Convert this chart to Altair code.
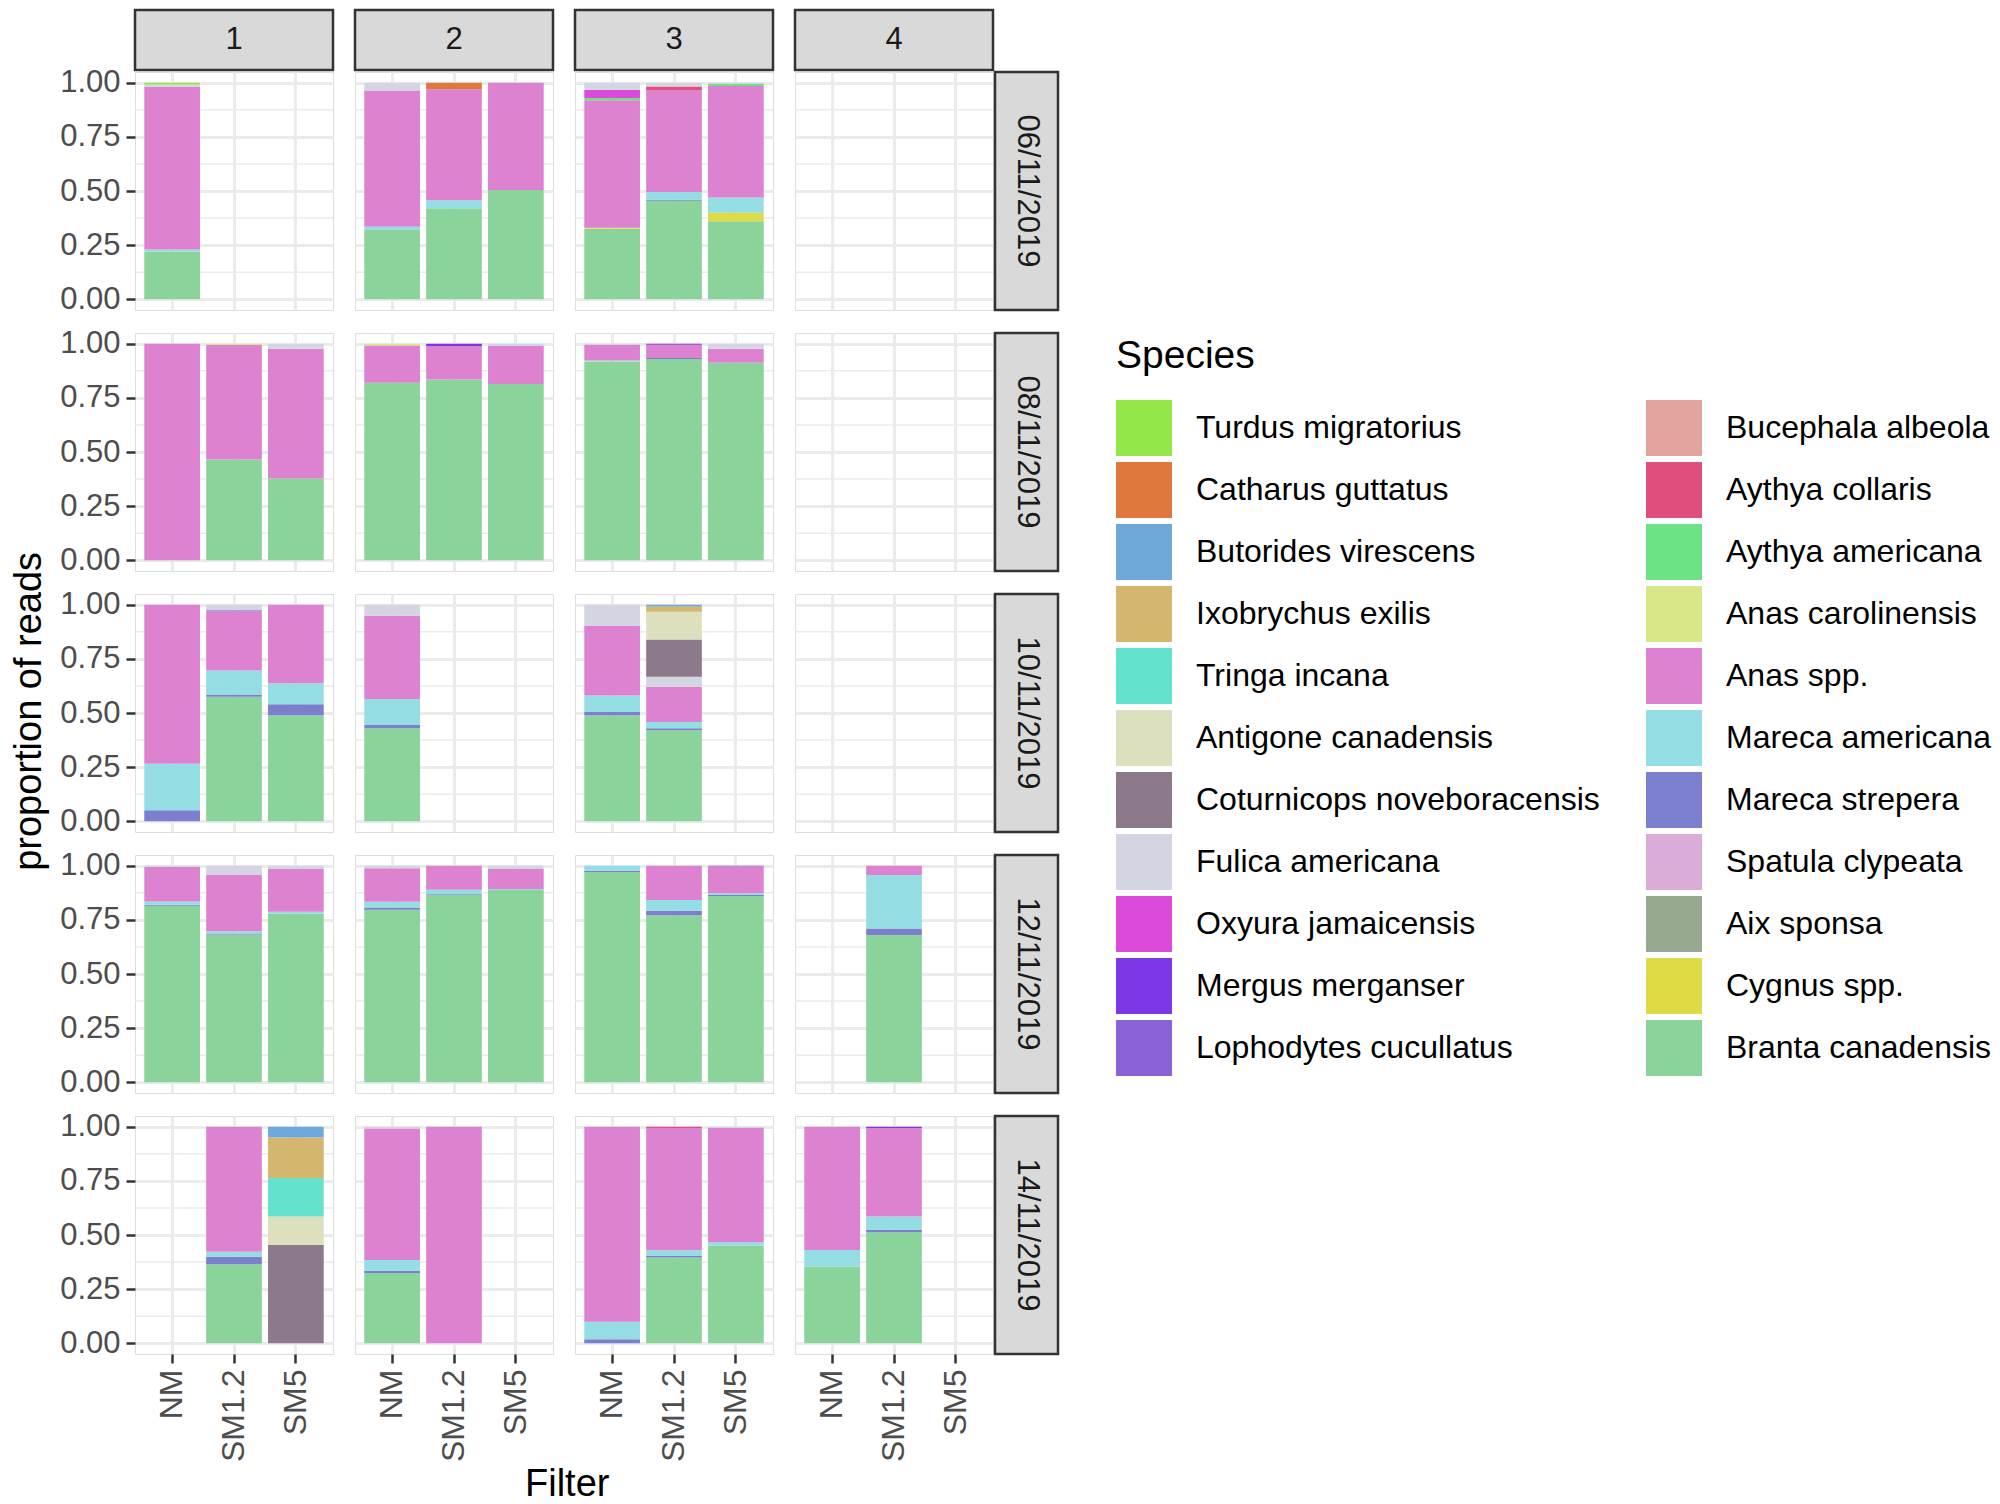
import altair as alt
import pandas as pd

FONT = "Liberation Sans"

# ---- legend / species (ggplot factor order; first level = top of stack) ----
species_names = [
    "Turdus migratorius", "Catharus guttatus", "Butorides virescens", "Ixobrychus exilis",
    "Tringa incana", "Antigone canadensis", "Coturnicops noveboracensis", "Fulica americana",
    "Oxyura jamaicensis", "Mergus merganser", "Lophodytes cucullatus",
    "Bucephala albeola", "Aythya collaris", "Aythya americana", "Anas carolinensis",
    "Anas spp.", "Mareca americana", "Mareca strepera", "Spatula clypeata",
    "Aix sponsa", "Cygnus spp.", "Branta canadensis",
]
species_codes = ["Tm", "Cg", "Bv", "Ie", "Ti", "Ag", "Cn", "Fa", "Oj", "Mm", "Lc",
                 "Ba", "Aco", "Aam", "Ac", "An", "Ma", "Ms", "Sc", "As", "Cy", "Bc"]
species_colors = [
    "#93E74B", "#E0783D", "#6FA8DA", "#D4B66E", "#63E2CE", "#DDE0BD", "#8C7A8A",
    "#D3D5E3", "#DC4ADB", "#7B37E6", "#8B62D8",
    "#E2A59E", "#DF4E7C", "#6CE384", "#D8E688", "#DD82D0", "#94DDE2", "#7C7ECE",
    "#DAADD9", "#97A891", "#DEDB47", "#8AD39A",
]

sites = ["1", "2", "3", "4"]
dates = ["06/11/2019", "08/11/2019", "10/11/2019", "12/11/2019", "14/11/2019"]
filters = ["NM", "SM1.2", "SM5"]
y_breaks = [0, 0.25, 0.5, 0.75, 1.0]
y_minor = [0.125, 0.375, 0.625, 0.875]

# ---- samples ----
sample_date = (["06/11/2019"] * 7 + ["08/11/2019"] * 9 + ["10/11/2019"] * 6
               + ["12/11/2019"] * 10 + ["14/11/2019"] * 9)
sample_site = (["1", "2", "2", "2", "3", "3", "3"]
               + ["1", "1", "1", "2", "2", "2", "3", "3", "3"]
               + ["1", "1", "1", "2", "3", "3"]
               + ["1", "1", "1", "2", "2", "2", "3", "3", "3", "4"]
               + ["1", "1", "2", "2", "3", "3", "3", "4", "4"])
sample_filter = (["NM", "NM", "SM1.2", "SM5", "NM", "SM1.2", "SM5"]
                 + ["NM", "SM1.2", "SM5"] * 3
                 + ["NM", "SM1.2", "SM5", "NM", "NM", "SM1.2"]
                 + ["NM", "SM1.2", "SM5"] * 3 + ["SM1.2"]
                 + ["SM1.2", "SM5", "NM", "SM1.2", "NM", "SM1.2", "SM5", "NM", "SM1.2"])
sample_species = [
    # 06/11/2019
    ["Bc", "Ma", "An", "Fa", "Tm"],
    ["Bc", "Ma", "An", "Fa"],
    ["Bc", "Ma", "An", "Cg"],
    ["Bc", "An"],
    ["Bc", "Cy", "An", "Aam", "Oj", "Fa"],
    ["Bc", "Ms", "Ma", "An", "Aco", "Fa"],
    ["Bc", "Cy", "Ma", "An", "Aam", "Fa"],
    # 08/11/2019
    ["An"],
    ["Bc", "An", "Ac"],
    ["Bc", "An", "Fa"],
    ["Bc", "An", "Ac"],
    ["Bc", "An", "Mm"],
    ["Bc", "An", "Fa"],
    ["Bc", "Ma", "An", "Fa"],
    ["Bc", "Ms", "An", "Mm"],
    ["Bc", "An", "Fa"],
    # 10/11/2019
    ["Ms", "Ma", "An"],
    ["Bc", "Ms", "Ma", "An", "Lc", "Fa"],
    ["Bc", "Ms", "Ma", "An"],
    ["Bc", "Ms", "Ma", "An", "Fa"],
    ["Bc", "Ms", "Ma", "An", "Fa"],
    ["Bc", "Ms", "Ma", "An", "Fa", "Cn", "Ag", "Ie", "Bv"],
    # 12/11/2019
    ["Bc", "Ms", "Ma", "An", "Fa"],
    ["Bc", "Ms", "Ma", "An", "Fa"],
    ["Bc", "Ma", "An", "Fa"],
    ["Bc", "Ms", "Ma", "An", "Fa"],
    ["Bc", "Ms", "Ma", "An"],
    ["Bc", "Ma", "An", "Fa"],
    ["Bc", "Ms", "Ma"],
    ["Bc", "Ms", "Ma", "An"],
    ["Bc", "Ms", "Ma", "An", "Lc"],
    ["Bc", "Ms", "Ma", "An"],
    # 14/11/2019
    ["Bc", "Ms", "Ma", "An"],
    ["Cn", "Ag", "Ti", "Ie", "Bv"],
    ["Bc", "Ms", "Ma", "An", "Fa"],
    ["An"],
    ["Ms", "Ma", "An"],
    ["Bc", "Ms", "Ma", "An", "Aco"],
    ["Bc", "Ma", "An", "Fa"],
    ["Bc", "Ma", "An"],
    ["Bc", "Ms", "Ma", "An", "Mm"],
]
sample_prop = [
    # 06/11/2019
    [0.22, 0.01, 0.752, 0.01, 0.008],
    [0.32, 0.015, 0.63, 0.035],
    [0.42, 0.037, 0.513, 0.03],
    [0.505, 0.495],
    [0.325, 0.005, 0.59, 0.01, 0.038, 0.032],
    [0.455, 0.005, 0.035, 0.47, 0.018, 0.017],
    [0.36, 0.04, 0.07, 0.515, 0.01, 0.005],
    # 08/11/2019
    [1.0],
    [0.465, 0.53, 0.005],
    [0.377, 0.6, 0.023],
    [0.82, 0.172, 0.008],
    [0.835, 0.155, 0.01],
    [0.814, 0.176, 0.01],
    [0.918, 0.005, 0.072, 0.005],
    [0.93, 0.004, 0.062, 0.004],
    [0.912, 0.065, 0.023],
    # 10/11/2019
    [0.05, 0.215, 0.735],
    [0.575, 0.01, 0.112, 0.273, 0.005, 0.025],
    [0.49, 0.05, 0.097, 0.363],
    [0.43, 0.015, 0.12, 0.385, 0.05],
    [0.49, 0.015, 0.076, 0.322, 0.097],
    [0.42, 0.01, 0.028, 0.163, 0.046, 0.173, 0.128, 0.024, 0.008],
    # 12/11/2019
    [0.815, 0.005, 0.015, 0.16, 0.005],
    [0.682, 0.005, 0.011, 0.262, 0.04],
    [0.778, 0.01, 0.197, 0.015],
    [0.797, 0.01, 0.027, 0.155, 0.011],
    [0.865, 0.004, 0.02, 0.111],
    [0.888, 0.005, 0.092, 0.015],
    [0.972, 0.005, 0.023],
    [0.771, 0.021, 0.05, 0.158],
    [0.861, 0.004, 0.008, 0.124, 0.003],
    [0.68, 0.03, 0.247, 0.043],
    # 14/11/2019
    [0.365, 0.034, 0.024, 0.577],
    [0.454, 0.132, 0.178, 0.187, 0.049],
    [0.324, 0.011, 0.049, 0.608, 0.008],
    [1.0],
    [0.018, 0.081, 0.901],
    [0.396, 0.007, 0.026, 0.565, 0.006],
    [0.452, 0.015, 0.527, 0.006],
    [0.353, 0.078, 0.569],
    [0.513, 0.011, 0.062, 0.408, 0.006],
]

code_to_name = dict(zip(species_codes, species_names))
rows = []
for d, s, f, sp_list, v_list in zip(sample_date, sample_site, sample_filter,
                                    sample_species, sample_prop):
    for c, v in zip(sp_list, v_list):
        name = code_to_name[c]
        rows.append({"date": d, "site": s, "Filter": f, "Species": name, "prop": v,
                     "ord": len(species_names) - 1 - species_names.index(name)})
df = pd.DataFrame(rows)
minor_df = pd.DataFrame({"v": y_minor})

color_enc = alt.Color(
    "Species:N",
    scale=alt.Scale(domain=species_names, range=species_colors),
    legend=alt.Legend(
        title="Species", orient="none", legendX=981, legendY=327, columns=2,
        symbolType="square", symbolSize=3136, symbolStrokeWidth=0, symbolOpacity=1,
        labelFontSize=32, labelFont=FONT, labelColor="#000000", labelLimit=800,
        labelOffset=24, rowPadding=6, columnPadding=46,
        titleFontSize=39, titleFont=FONT, titleFontWeight="normal", titleColor="#000000",
        titlePadding=24,
    ),
)

PW, PH = 198, 238
GRID = "#EBEBEB"
yscale = alt.Scale(domain=[-0.05, 1.05], nice=False, zero=False)
xscale = alt.Scale(domain=filters, paddingInner=0.1, paddingOuter=0.15)


def panel(d, s, ri, ci):
    last_row = ri == len(dates) - 1
    first_col = ci == 0
    if last_row:
        xaxis = alt.Axis(
            title=None, labelAngle=-90, labelAlign="right", labelBaseline="middle",
            labelFontSize=32, labelFont=FONT, labelColor="#4D4D4D", labelPadding=6,
            ticks=True, tickSize=9, tickColor="#333333", tickWidth=2.5, domain=False,
            grid=True, gridColor=GRID, gridWidth=3, bandPosition=0.5,
        )
    else:
        xaxis = alt.Axis(title=None, labels=False, ticks=False, domain=False, grid=True,
                         gridColor=GRID, gridWidth=3, bandPosition=0.5)
    if first_col:
        yaxis = alt.Axis(
            title=None, values=y_breaks, format=".2f", labelFontSize=31, labelFont=FONT,
            labelColor="#4D4D4D", labelPadding=6, tickSize=9, tickColor="#333333",
            tickWidth=2.5, domain=False, grid=True, gridColor=GRID, gridWidth=3,
        )
    else:
        yaxis = alt.Axis(title=None, values=y_breaks, labels=False, ticks=False, domain=False,
                         grid=True, gridColor=GRID, gridWidth=3)

    minor = alt.Chart(minor_df).mark_rule(color=GRID, strokeWidth=1.5).encode(
        y=alt.Y("v:Q", scale=yscale, axis=yaxis)
    )
    bars = (
        alt.Chart(df)
        .transform_filter((alt.datum.date == d) & (alt.datum.site == s))
        .mark_bar(strokeWidth=0)
        .encode(
            x=alt.X("Filter:N", scale=xscale, axis=xaxis),
            y=alt.Y("prop:Q", stack="zero", scale=yscale, axis=yaxis),
            color=color_enc,
            order=alt.Order("ord:Q", sort="ascending"),
        )
    )
    return alt.layer(minor, bars).properties(width=PW, height=PH)


strip_bg = alt.ViewBackground(fill="#D9D9D9", stroke="#333333", strokeWidth=2.5)


def strip_top(s):
    return alt.Chart(pd.DataFrame({"label": [s]})).mark_text(
        font=FONT, fontSize=31, color="#1A1A1A", align="center", baseline="middle"
    ).encode(text="label:N").properties(width=PW, height=60, view=strip_bg)


def strip_right(d):
    return alt.Chart(pd.DataFrame({"label": [d]})).mark_text(
        font=FONT, fontSize=31, color="#1A1A1A", align="center", baseline="middle", angle=90
    ).encode(text="label:N").properties(width=63, height=PH, view=strip_bg)


title_style = dict(fontSize=38, font=FONT, fontWeight="normal", color="#000000")

top_row = alt.hconcat(*[strip_top(s) for s in sites], spacing=18)
panel_rows = []
for ri, d in enumerate(dates):
    cells = [panel(d, s, ri, ci) for ci, s in enumerate(sites)]
    last = alt.hconcat(cells[3], strip_right(d), spacing=-4)
    row = alt.hconcat(cells[0], cells[1], cells[2], last, spacing=18)
    if ri == len(dates) - 1:
        row = row.properties(
            title=alt.TitleParams("Filter", orient="bottom", anchor="middle", offset=4,
                                  dx=8, **title_style)
        )
    panel_rows.append(row)

chart = (
    alt.vconcat(top_row, alt.vconcat(*panel_rows, spacing=12), spacing=-9)
    .properties(
        padding={"left": 3, "top": 0, "right": 0, "bottom": 0},
        title=alt.TitleParams("proportion of reads", orient="left", anchor="middle",
                              offset=10, dx=45, **title_style),
    )
    .configure_view(stroke="#333333", strokeWidth=2.5)
    .configure(background="white")
)

chart.save("out.html", embed_options={"renderer": "svg", "actions": False})
